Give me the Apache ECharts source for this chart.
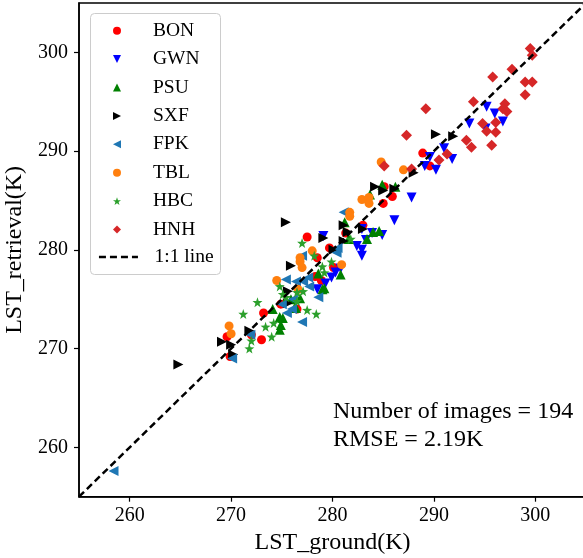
<!DOCTYPE html>
<html><head><meta charset="utf-8">
<script src="https://cdn.jsdelivr.net/npm/echarts@6/dist/echarts.min.js"></script>
<style>html,body{margin:0;padding:0;background:#fff}#c{width:583px;height:558px}</style>
</head><body><div id="c"></div>
<script>
// ---- data (ground LST x, retrieved LST y), in K ----
var BON = [[288.9,289.8],[289.6,288.5],[285.9,285.4],[285.1,286.4],[285.0,284.7],[283.0,282.5],[281.3,281.7],[277.5,281.3],[279.7,280.2],[278.5,279.2],[280.1,278.2],[278.3,277.3],[278.9,276.9],[274.9,274.5],[276.5,274.0],[273.2,273.6],[273.0,270.9],[272.0,271.4],[269.6,271.2],[269.9,269.2]];
var GWN = [[295.2,294.5],[296.0,293.8],[296.8,293.0],[293.5,292.8],[295.1,292.3],[291.0,290.3],[291.8,289.2],[290.2,288.1],[289.1,288.5],[289.6,289.4],[287.8,285.3],[286.1,283.0],[282.9,282.1],[283.9,281.7],[284.9,281.5],[282.4,280.4],[282.9,280.0],[282.9,279.4],[283.3,281.0],[279.1,281.4],[280.8,278.1],[280.3,277.7],[279.9,277.2],[279.3,276.6],[278.5,276.0]];
var PSU = [[284.9,286.6],[283.7,285.6],[281.2,282.8],[281.6,281.1],[283.4,281.1],[284.0,281.8],[284.6,281.9],[280.8,277.5],[278.6,277.6],[279.0,276.0],[276.8,275.1],[276.3,274.2],[275.1,273.1],[274.9,272.4],[274.1,274.0],[274.8,273.2],[276.4,274.1],[274.8,271.9],[275.9,275.0],[279.2,276.1],[286.2,286.4]];
var SXF = [[264.8,268.4],[269.1,270.7],[270.0,270.4],[270.2,269.4],[271.8,271.8],[275.4,282.8],[275.9,278.4],[275.6,275.8],[275.6,274.6],[279.1,281.2],[280.1,280.0],[281.1,282.5],[281.5,281.8],[283.0,282.1],[284.2,286.4],[285.0,286.0],[286.1,286.2],[288.0,287.8],[290.2,291.7],[291.9,291.5],[281.1,280.9]];
var FPK = [[258.4,257.6],[281.1,283.8],[277.0,279.4],[275.4,277.0],[276.4,276.8],[277.1,276.8],[277.7,276.3],[278.6,275.2],[276.1,275.0],[275.0,274.5],[276.0,274.0],[277.0,272.7],[275.5,273.6],[280.4,279.7],[271.9,271.4],[270.1,269.0],[280.5,280.2],[277.6,277.2]];
var TBL = [[284.8,288.9],[287.0,288.1],[282.9,285.1],[283.6,285.3],[283.6,284.7],[281.7,283.8],[281.7,283.4],[278.0,279.9],[276.8,279.2],[276.8,278.8],[277.0,278.2],[274.5,276.9],[276.6,276.0],[280.9,278.5],[269.8,272.3],[270.0,271.5]];
var HBC = [[272.6,274.7],[271.2,273.5],[273.4,272.2],[274.2,272.6],[274.0,271.2],[272.0,270.8],[271.8,270.0],[276.5,275.7],[277.5,273.9],[277.0,280.7],[279.9,278.8],[279.2,277.7],[274.8,276.3],[275.1,275.5],[277.1,275.8],[276.5,274.8],[278.4,273.5],[281.8,281.1],[279.0,278.3],[278.2,279.4],[275.4,275.2]];
var HNH = [[299.5,300.4],[299.7,299.7],[297.7,298.3],[295.8,297.5],[299.0,297.0],[299.7,297.0],[299.0,295.7],[293.9,295.0],[297.0,294.8],[296.8,294.3],[297.2,294.0],[294.8,292.8],[296.1,292.9],[295.2,292.0],[296.1,291.9],[295.7,290.6],[293.7,290.4],[293.2,291.1],[289.2,294.3],[287.3,291.6],[291.3,289.7],[290.5,289.1],[287.8,288.2],[285.1,288.5]];
var LINE_X = [255, 305];
var LINE_Y = [255, 305];
var TICKS = [260, 270, 280, 290, 300];
var SITES = ['BON','GWN','PSU','SXF','FPK','TBL','HBC','HNH'];
var SITE_DATA = [BON, GWN, PSU, SXF, FPK, TBL, HBC, HNH];
var ANNOT = ['Number of images = 194', 'RMSE = 2.19K'];

// ---- styles ----
var FONT = 'Liberation Serif';
var STAR = 'path://M0,-10 L2.35,-3.24 L9.51,-3.09 L3.8,1.24 L5.88,8.09 L0,4 L-5.88,8.09 L-3.8,1.24 L-9.51,-3.09 L-2.35,-3.24 Z';
var T_UP = 'path://M0,-5 L5,5 L-5,5 Z';
var T_DOWN = 'path://M-5,-5 L5,-5 L0,5 Z';
var T_RIGHT = 'path://M-5,-5 L5,0 L-5,5 Z';
var T_LEFT = 'path://M5,-5 L-5,0 L5,5 Z';
var STY = [
  {color:'#ff0000', symbol:'circle', size:9},
  {color:'#0000ff', symbol:T_DOWN, size:10},
  {color:'#008000', symbol:T_UP, size:10},
  {color:'#000000', symbol:T_RIGHT, size:10},
  {color:'#1f77b4', symbol:T_LEFT, size:10},
  {color:'#ff7f0e', symbol:'circle', size:9},
  {color:'#2ca02c', symbol:STAR, size:10},
  {color:'#d62728', symbol:'diamond', size:11}
];

var series = SITES.map(function(name, i){
  return {
    name: name, type: 'scatter', data: SITE_DATA[i],
    symbol: STY[i].symbol, symbolSize: STY[i].size,
    itemStyle: {color: STY[i].color, opacity: 1},
    emphasis: {disabled: true}, z: 2 + i * 0.01
  };
});
series.push({
  name: '1:1 line', type: 'line', data: LINE_X.map(function(v, i){ return [v, LINE_Y[i]]; }),
  symbol: 'none', showSymbol: false, lineStyle: {color: '#000', width: 2.5, type: [7, 4]},
  itemStyle: {color: '#000'}, z: 5, silent: true
});

var axisCommon = {
  min: 255, max: 305,
  axisLine: {show: true, lineStyle: {color: '#000', width: 1.5}},
  axisTick: {show: true, inside: false, length: 5, lineStyle: {color: '#000', width: 1.2}, customValues: TICKS},
  axisLabel: {color: '#000', fontFamily: FONT, fontSize: 20, customValues: TICKS},
  splitLine: {show: false},
  nameLocation: 'middle',
  nameTextStyle: {color: '#000', fontFamily: FONT, fontSize: 24}
};

var legendText = {color: '#000', fontFamily: FONT, fontSize: 19.5, lineHeight: 20};

var chart = echarts.init(document.getElementById('c'), null, {renderer: 'canvas'});
chart.setOption({
  animation: false,
  backgroundColor: '#fff',
  grid: {left: 79, top: 3, right: -3, bottom: 61.3, outerBoundsMode: 'none', containLabel: false,
         show: true, borderColor: '#000', borderWidth: 1.5, backgroundColor: 'transparent'},
  xAxis: Object.assign({}, axisCommon, {type: 'value', name: 'LST_ground(K)', nameGap: 32,
    axisLabel: Object.assign({}, axisCommon.axisLabel, {margin: 9})}),
  yAxis: Object.assign({}, axisCommon, {type: 'value', name: 'LST_retrieval(K)', nameGap: 46,
    axisLabel: Object.assign({}, axisCommon.axisLabel, {margin: 11})}),
  legend: [
    {data: SITES.map(function(n, i){ return {name: n, icon: STY[i].symbol}; }),
     orient: 'vertical', left: 113, top: 20.7, padding: 0,
     itemWidth: 8, itemHeight: 8, itemGap: 8.4, selectedMode: false, symbolKeepAspect: true,
     textStyle: Object.assign({}, legendText, {padding: [0, 0, 0, 27]})},
    {data: ['1:1 line'], orient: 'vertical', left: 97.7, top: 247, padding: 0,
     itemWidth: 39, itemHeight: 8, selectedMode: false, itemStyle: {opacity: 0},
     lineStyle: {color: '#000', width: 2.5, type: [7, 4], opacity: 1},
     textStyle: Object.assign({}, legendText, {padding: [0, 0, 0, 11.6]})}
  ],
  graphic: [
    {type: 'rect', left: 90, top: 13, shape: {width: 130, height: 261, r: 4}, z: 3,
     style: {fill: 'rgba(255,255,255,0.8)', stroke: '#cccccc', lineWidth: 1}},
    {type: 'text', left: 333, top: 398, z: 10,
     style: {text: ANNOT.join('\n'), fill: '#000', font: '24px "Liberation Serif"', lineHeight: 28}}
  ],
  series: series
});
</script></body></html>
